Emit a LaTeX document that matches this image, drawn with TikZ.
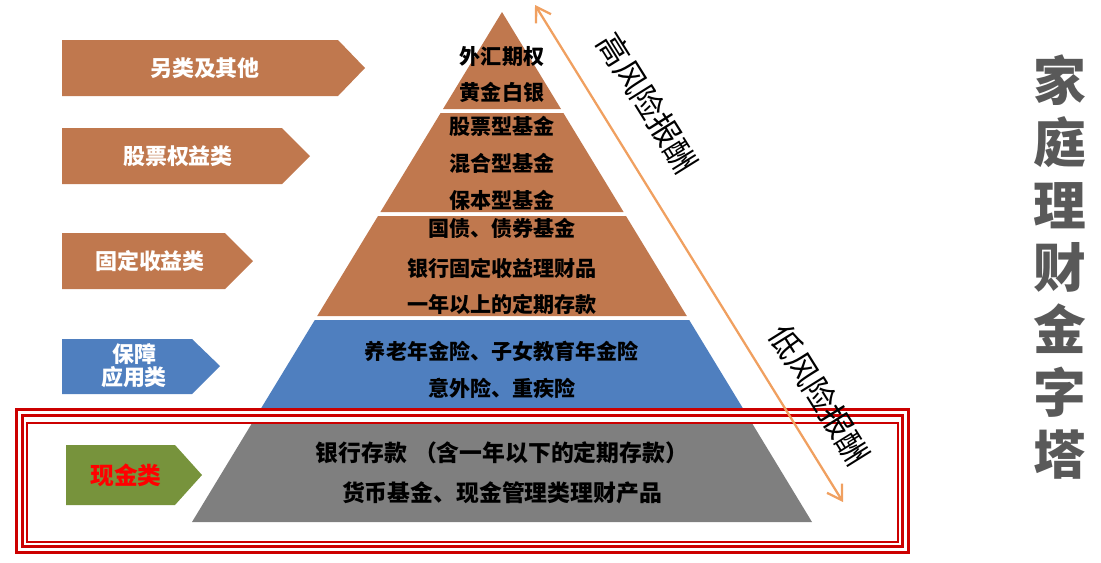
\documentclass[tikz,border=0pt]{standalone}
\usepackage{fontspec}
\usetikzlibrary{arrows.meta}
\setmainfont{Noto Sans CJK SC}
\begin{document}
\begin{tikzpicture}[x=0.02cm,y=-0.02cm,
  lbl/.style={font=\bfseries\fontsize{12.5}{13}\selectfont,text=white,align=center},
  ptxt/.style={font=\bfseries\fontsize{12}{12}\selectfont,text=black},
  btxt/.style={font=\bfseries\fontsize{13}{13}\selectfont,text=black}]
\definecolor{brn}{HTML}{C0784E}
\definecolor{blu}{HTML}{4F7FBF}
\definecolor{gry}{HTML}{7F7F7F}
\definecolor{grn}{HTML}{77933C}
\definecolor{org}{HTML}{F0A060}
\definecolor{ttl}{HTML}{595959}
\useasboundingbox (0,0) rectangle (1101,562);
\fill[brn] (502,12) -- (561.0,109) -- (443.0,109) -- cycle;
\fill[brn] (440.6,113) -- (563.4,113) -- (623.6,212) -- (380.4,212) -- cycle;
\fill[brn] (378.0,216) -- (626.0,216) -- (686.8,316) -- (317.2,316) -- cycle;
\fill[blu] (314.8,320) -- (689.2,320) -- (747.0,415) -- (257.0,415) -- cycle;
\fill[gry] (251.5,424) -- (752.5,424) -- (812,522) -- (192,522) -- cycle;
\node[ptxt] (t1) at (502,57) {外汇期权};
\node[ptxt] (t2) at (502,92) {黄金白银};
\node[ptxt] (t3) at (502,126) {股票型基金};
\node[ptxt] (t4) at (502,163) {混合型基金};
\node[ptxt] (t5) at (502,200) {保本型基金};
\node[ptxt] (t6) at (502,228) {国债、债券基金};
\node[ptxt] (t7) at (502,268) {银行固定收益理财品};
\node[ptxt] (t8) at (502,304) {一年以上的定期存款};
\node[ptxt] (t9) at (502,351) {养老年金险、子女教育年金险};
\node[ptxt] (t10) at (502,388) {意外险、重疾险};
\node[btxt] (t11) at (502,453) {银行存款\hspace{0.3em}（含一年以下的定期存款）};
\node[btxt] (t12) at (502,493) {货币基金、现金管理类理财产品};
\fill[brn] (62,40) -- (338,40) -- (365,68) -- (338,96) -- (62,96) -- cycle;
\node[lbl] (a1) at (205,68) {另类及其他};
\fill[brn] (62,128) -- (282,128) -- (310,156) -- (282,184) -- (62,184) -- cycle;
\node[lbl] (a2) at (178,156) {股票权益类};
\fill[brn] (62,233) -- (225,233) -- (253,261) -- (225,289) -- (62,289) -- cycle;
\node[lbl] (a3) at (150,261) {固定收益类};
\fill[blu] (62,339) -- (192,339) -- (220,366) -- (192,394) -- (62,394) -- cycle;
\node[lbl,font=\bfseries\fontsize{12.5}{12}\selectfont] (a4) at (134,366) {保障\\应用类};
\fill[grn] (66,445) -- (175,445) -- (202,475) -- (175,505) -- (66,505) -- cycle;
\node[lbl,text=red,font=\bfseries\fontsize{13.5}{14}\selectfont] (a5) at (126,475) {现金类};
\draw[red!80!black,line width=5.5] (19.5,412.5) rectangle (905.5,549.5);
\draw[white,line width=1.4] (19.5,412.5) rectangle (905.5,549.5);
\draw[red!80!black,line width=1.3] (27,423) rectangle (898,542);
\coordinate (h) at (535,5);
\coordinate (l) at (843,502);
\draw[org,line width=1.3,<->,>={Straight Barb[length=8,width=10]}] (h) -- (l);
\node[font=\fontsize{18}{18}\selectfont,rotate=-58] (hr) at (648,103) {高风险报酬};
\node[font=\fontsize{18}{18}\selectfont,rotate=-58] (lr) at (820,395) {低风险报酬};
\node[font=\bfseries\fontsize{30}{35.5}\selectfont,text=ttl,align=center] (title) at (1060,267) {家\\庭\\理\\财\\金\\字\\塔};
\end{tikzpicture}
\end{document}
